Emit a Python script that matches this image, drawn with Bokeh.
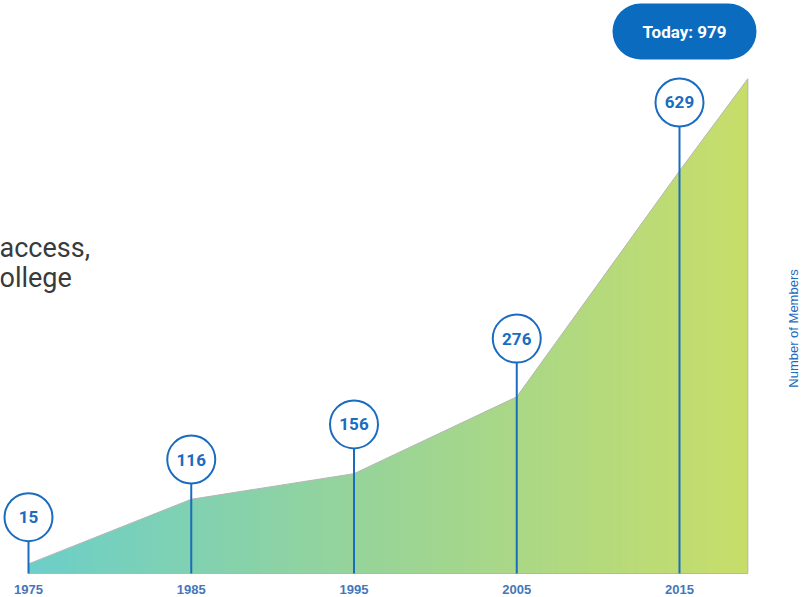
import numpy as np
from bokeh.plotting import figure
from bokeh.models import Range1d
from bokeh.core.properties import value
from bokeh.embed import file_html
from bokeh.resources import INLINE

# ---------------- data ----------------
years = [1975, 1985, 1995, 2005, 2015]
members = [15, 116, 156, 276, 629]
year_labels = ["1975", "1985", "1995", "2005", "2015"]
today_members = 979
# outline of the shaded area (members)
area_years = [1975, 1985, 1995, 2005, 2015, 2019.2]
area_values = [15, 116, 156, 276, 629, 773]
# height (in members) at which each value bubble sits
bubble_heights = [88, 178, 233, 367, 736]
side_text = ["access,", "ollege"]
axis_title = "Number of Members"

# ---------------- layout constants ----------------
W, H = 804, 597
BASE = 573            # canvas y of the baseline
PX_YEAR = 16.275      # pixels per year
PX_MEMBER = 0.64      # pixels per member
X0_PX = 28            # canvas x of 1975

x_start = 1975 - X0_PX / PX_YEAR
x_end = x_start + W / PX_YEAR
y_end = BASE / PX_MEMBER
y_start = -(H - BASE) / PX_MEMBER


def dx(px):
    return x_start + px / PX_YEAR


def dy(py):
    return (BASE - py) / PX_MEMBER


BLUE = "#1a6cbf"
BADGE = "#0b6bbf"

p = figure(width=W, height=H, output_backend="svg", toolbar_location=None,
           x_range=Range1d(x_start, x_end), y_range=Range1d(y_start, y_end),
           min_border=0, min_border_left=0, min_border_right=0,
           min_border_top=0, min_border_bottom=0)
p.axis.visible = False
p.grid.visible = False
p.outline_line_color = None
p.background_fill_color = "white"
p.border_fill_color = "white"

# ---------------- gradient area ----------------
N = 720
img = np.empty((1, N), dtype=np.uint32)
view = img.view(dtype=np.uint8).reshape((1, N, 4))
stops_f = [0.0, 0.45, 1.0]
stops_c = [(108, 207, 201), (150, 212, 155), (200, 222, 106)]
f = np.linspace(0, 1, N)
for ch in range(3):
    view[0, :, ch] = np.interp(f, stops_f, [c[ch] for c in stops_c]).astype(np.uint8)
view[0, :, 3] = 255
p.image_rgba(image=[img], x=area_years[0], y=0,
             dw=area_years[-1] - area_years[0], dh=max(area_values) + 20)
# white mask above the area outline (extended past the edges)
mask_x = [x_start - 1] + area_years + [x_end + 1]
mask_y1 = [area_values[0]] + area_values + [area_values[-1]]
p.varea(x=mask_x, y1=mask_y1, y2=[y_end + 200] * len(mask_x),
        fill_color="white")
# soft outline
p.line(x=area_years + [area_years[-1], area_years[0], area_years[0]],
       y=area_values + [0, 0, area_values[0]],
       line_color="#b5b5b5", line_width=1)

# ---------------- stems, bubbles, values ----------------
p.segment(x0=years, y0=[0] * len(years), x1=years, y1=bubble_heights,
          line_color=BLUE, line_width=2)
p.scatter(x=years, y=bubble_heights, marker="circle", size=48,
          fill_color="white", line_color=BLUE, line_width=2)
p.text(x=years, y=bubble_heights, text=[str(m) for m in members],
       text_align="center", text_baseline="middle",
       text_font=value("Roboto"), text_font_style="bold",
       text_font_size="17px", text_color=BLUE)

# ---------------- x tick labels ----------------
p.text(x=years, y=[dy(588.5)] * len(years), text=year_labels,
       text_align="center", text_baseline="middle",
       text_font=value("Liberation Sans"), text_font_style="bold",
       text_font_size="13px", text_color="#4577ba")

# ---------------- today badge ----------------
bx = dx(684)
p.rect(x=[bx], y=[dy(31)], width=144, height=56, width_units="screen",
       height_units="screen", border_radius=28, fill_color=BADGE,
       line_color=None)
p.text(x=[bx], y=[dy(31)], text=[f"Today: {today_members}"],
       text_align="center", text_baseline="middle",
       text_font=value("Roboto"), text_font_style="bold",
       text_font_size="17px", text_color="white")

# ---------------- right axis title ----------------
p.text(x=[dx(793)], y=[dy(328)], text=[axis_title], angle=np.pi / 2,
       text_align="center", text_baseline="middle",
       text_font=value("Liberation Sans"), text_font_size="13px",
       text_color=BLUE)

# ---------------- cut-off side text ----------------
p.text(x=[dx(-1), dx(-1)], y=[dy(247), dy(277)], text=side_text,
       text_align="left", text_baseline="alphabetic",
       text_font=value("Roboto"), text_font_size="27px",
       text_color="#3a3a3a")

open("out.html", "w").write(file_html(p, INLINE))
